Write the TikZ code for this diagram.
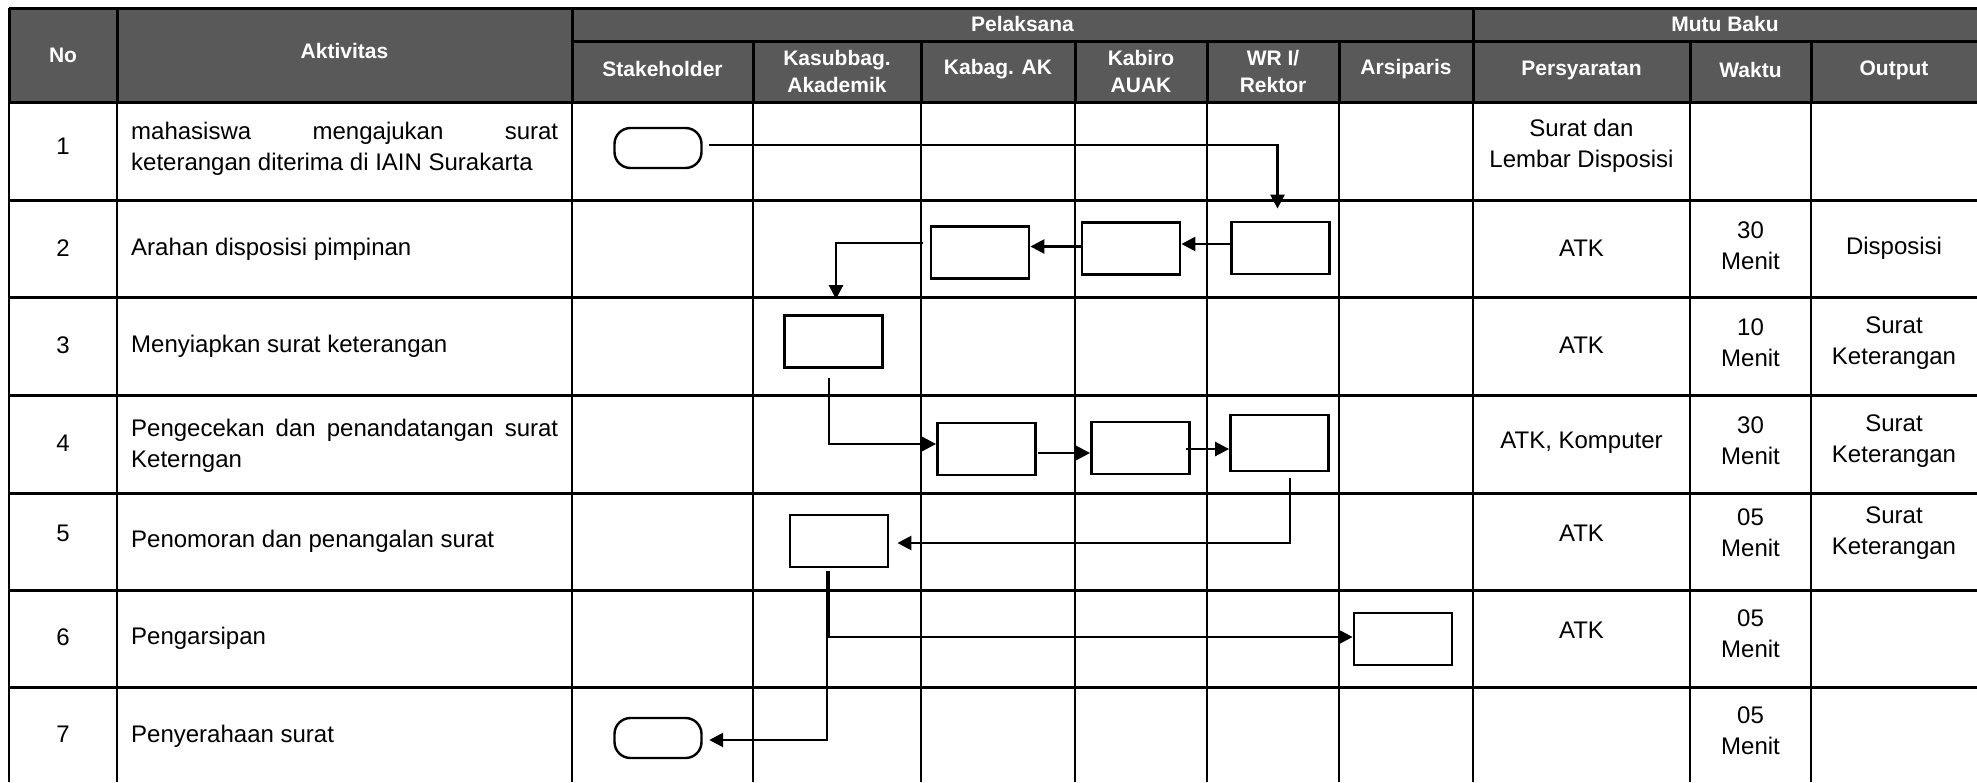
\documentclass[tikz,border=0pt]{standalone}
\usepackage{fontspec}
\setmainfont{Liberation Sans}
\usetikzlibrary{arrows.meta,calc}
\definecolor{hdr}{RGB}{89,89,89}
\begin{document}
\begin{tikzpicture}[x=1pt,y=-1pt,
  body/.style={font=\fontsize{24}{31}\selectfont, inner sep=0pt, align=center},
  head/.style={font=\fontsize{21}{27}\selectfont\bfseries, text=white, inner sep=0pt, align=center},
  gridh/.style={line width=3pt},
  gridv/.style={line width=2pt},
  procbox/.style={draw, line width=2.8pt, minimum width=98pt, minimum height=52pt, inner sep=0pt},
  term/.style={draw, line width=2.4pt, rounded corners=16pt, minimum width=87pt, minimum height=40pt, inner sep=0pt},
  conn/.style={line width=2.6pt, -{Triangle[length=14pt,width=14pt]}},
  ]
\useasboundingbox (0,0) rectangle (1977,782);
% header background
\fill[hdr] (9,8) rectangle (1977,102);
% header grid
\draw[gridh] (9,8) -- (1977,8);
\draw[gridh] (572,41) -- (1977,41);
\draw[gridh] (9,102) -- (1977,102);
\foreach \x in {9,117,572,1473} \draw[gridh] (\x,8) -- (\x,102);
\foreach \x in {753,921,1075,1207,1339,1690,1811} \draw[gridh] (\x,41) -- (\x,102);
% body grid
\foreach \x in {9,117,572,753,921,1075,1207,1339,1473,1690,1811} \draw[gridv] (\x,102) -- (\x,782);
\foreach \y in {200,297,395,493,590,687} \draw[gridh] (9,\y) -- (1977,\y);
% header texts
\node[head] (hNo) at (63,55) {No};
\node[head] (hAkt) at (344.5,51) {Aktivitas};
\node[head] (hPel) at (1022.5,24) {Pelaksana};
\node[head] (hMutu) at (1725,24) {Mutu Baku};
\node[head] (hSt) at (662.5,69) {Stakeholder};
\node[head] (hKs) at (837,71) {Kasubbag.\\Akademik};
\node[head] (hKa) at (998,69) {Kabag. AK};
\node[head] (hKb) at (1141,71) {Kabiro\\AUAK};
\node[head] (hWr) at (1273,71) {WR I/\\Rektor};
\node[head] (hAr) at (1406,69) {Arsiparis};
\node[head] (hPe) at (1581.5,70) {Persyaratan};
\node[head] (hWa) at (1750.5,70) {Waktu};
\node[head] (hOu) at (1894,70) {Output};
% No column
\node[body] (n1) at (63,146) {1};
\node[body] (n2) at (63,248) {2};
\node[body] (n3) at (63,345) {3};
\node[body] (n4) at (63,443) {4};
\node[body] (n5) at (63,533) {5};
\node[body] (n6) at (63,637) {6};
\node[body] (n7) at (63,734) {7};
% Aktivitas column
\node[body, anchor=west, align=left] (a1) at (131,149) {\hbox to 427pt{mahasiswa\hfill mengajukan\hfill surat}\\keterangan diterima di IAIN Surakarta};
\node[body, anchor=west, align=left] (a2) at (131,249) {Arahan disposisi pimpinan};
\node[body, anchor=west, align=left] (a3) at (131,346) {Menyiapkan surat keterangan};
\node[body, anchor=west, align=left] (a4) at (131,446) {\hbox to 427pt{Pengecekan\hfill dan\hfill penandatangan\hfill surat}\\Keterngan};
\node[body, anchor=west, align=left] (a5) at (131,541) {Penomoran dan penangalan surat};
\node[body, anchor=west, align=left] (a6) at (131,638) {Pengarsipan};
\node[body, anchor=west, align=left] (a7) at (131,736) {Penyerahaan surat};
% Persyaratan
\node[body] (p1) at (1581.5,146) {Surat dan\\Lembar Disposisi};
\node[body] (p2) at (1581.5,248) {ATK};
\node[body] (p3) at (1581.5,345) {ATK};
\node[body] (p4) at (1581.5,443) {ATK, Komputer};
\node[body] (p5) at (1581.5,533) {ATK};
\node[body] (p6) at (1581.5,630) {ATK};
% Waktu
\node[body] (w2) at (1750.5,246) {30\\Menit};
\node[body] (w3) at (1750.5,343) {10\\Menit};
\node[body] (w4) at (1750.5,441) {30\\Menit};
\node[body] (w5) at (1750.5,533) {05\\Menit};
\node[body] (w6) at (1750.5,634) {05\\Menit};
\node[body] (w7) at (1750.5,731) {05\\Menit};
% Output
\node[body] (o2) at (1894,248) {Disposisi};
\node[body] (o3) at (1894,343) {Surat\\Keterangan};
\node[body] (o4) at (1894,441) {Surat\\Keterangan};
\node[body] (o5) at (1894,533) {Surat\\Keterangan};
% flow shapes
\node[term] (T1) at (658,148) {};
\node[procbox] (W2) at (1280.5,248) {};
\node[procbox] (B2) at (1131,248.5) {};
\node[procbox] (A2) at (980,252.5) {};
\node[procbox] (K3) at (833.5,341.5) {};
\node[procbox] (A4) at (986.5,449) {};
\node[procbox] (B4) at (1140.5,448) {};
\node[procbox, minimum height=56pt] (W4) at (1279.5,443) {};
\node[procbox] (K5) at (839,541) {};
\node[procbox] (R6) at (1403,639) {};
\node[term] (T7) at (658,738) {};
% connectors
\draw[conn] ($(T1.east)+(6,-3)$) -| ($(W2.north)+(-3,-12)$);
\coordinate (c2a) at ($(W2.west)+(2,-4)$);
\draw[conn] (c2a) -- (c2a -| B2.east);
\coordinate (c2b) at ($(B2.west)+(0,-2)$);
\draw[conn] (c2b) -- (c2b -| A2.east);
\draw[conn] ($(A2.west)+(-7,-9.5)$) -| ($(K3.north)+(2.5,-15)$);
\draw[conn] ($(K3.south)+(-4.5,9)$) |- ($(A4.west)+(0,-5)$);
\coordinate (c4a) at ($(A4.east)+(1,4)$);
\draw[conn] (c4a) -- (c4a -| B4.west);
\coordinate (c4b) at ($(B4.east)+(-5,1)$);
\draw[conn] (c4b) -- (c4b -| W4.west);
\draw[conn] ($(W4.south)+(10.5,6)$) |- ($(K5.east)+(8,2)$);
\draw[conn] ($(K5.south)+(-10,3)$) |- ($(R6.west)+(0,-2)$);
\draw[conn] ($(K5.south)+(-12,3)$) |- ($(T7.east)+(6.5,2)$);
\end{tikzpicture}
\end{document}
